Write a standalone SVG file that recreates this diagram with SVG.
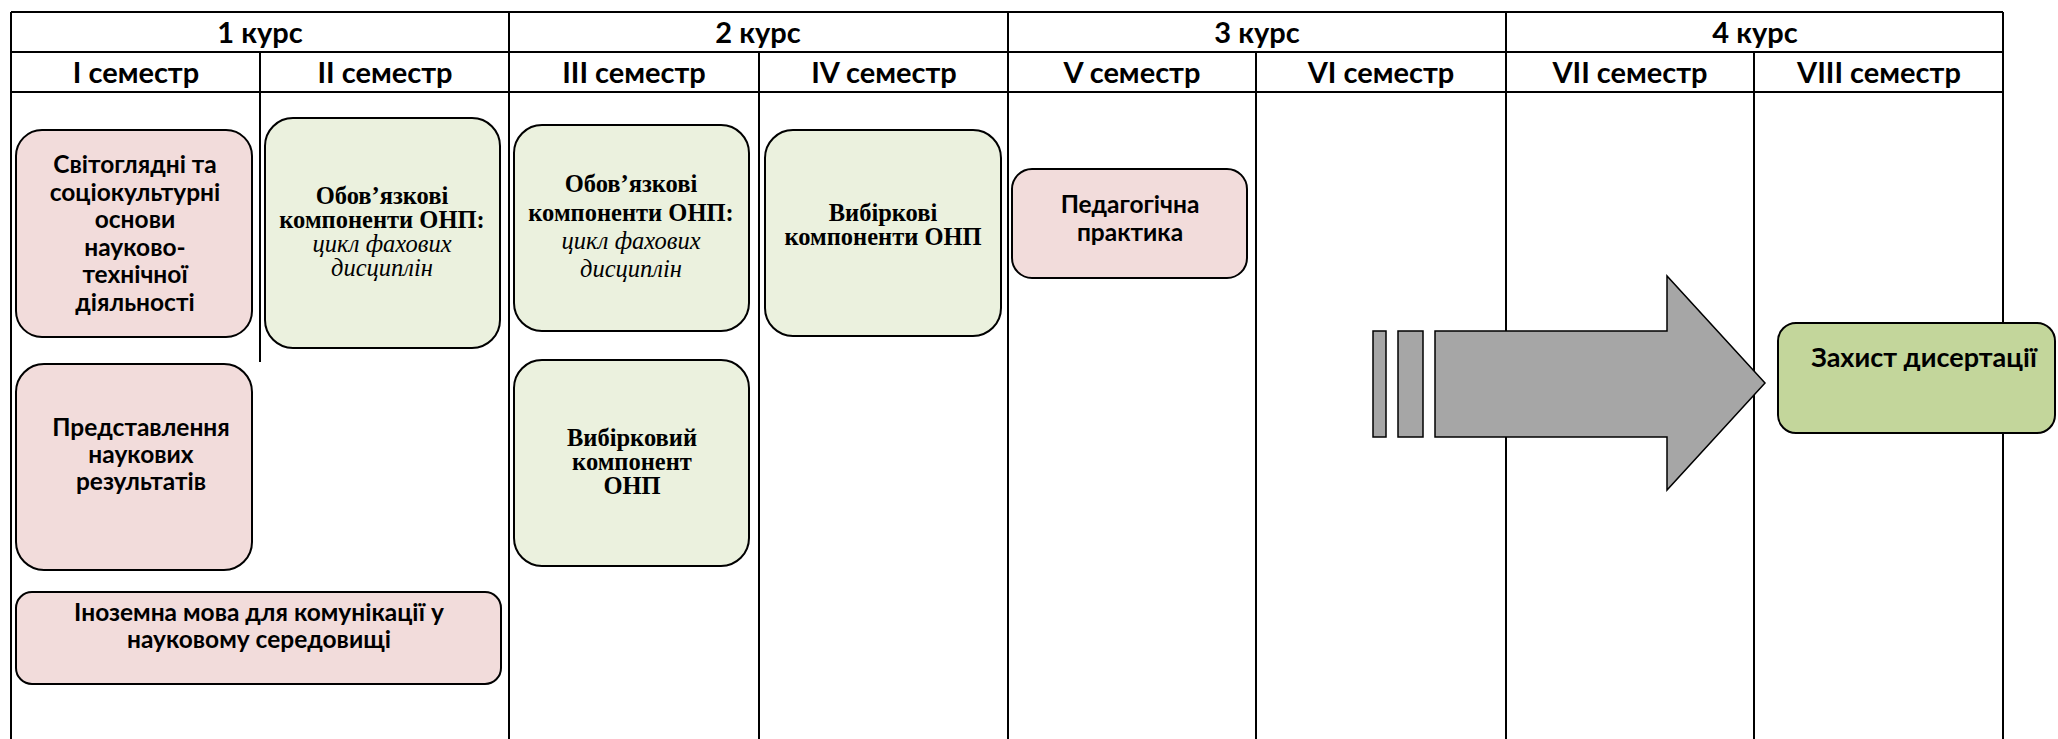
<svg xmlns="http://www.w3.org/2000/svg" width="2058" height="739" viewBox="0 0 2058 739">
<style>
.grid{stroke:#000;stroke-width:2;fill:none}
.pink{fill:#F2DCDB;stroke:#000;stroke-width:2}
.green{fill:#EBF1DE;stroke:#000;stroke-width:2}
.dgreen{fill:#C3D69B;stroke:#000;stroke-width:2}
.arrow{fill:#A6A6A6;stroke:#000;stroke-width:1.5}
.hd{font-family:Lato,"Open Sans","Noto Sans",sans-serif;font-weight:700;font-size:29px;text-anchor:middle;fill:#000}
.cb{font-family:Lato,"Open Sans","Noto Sans",sans-serif;font-weight:700;font-size:24.5px;text-anchor:middle;fill:#000}
.big{font-size:27px}
.tb{font-family:"Liberation Serif","Times New Roman",serif;font-weight:700;font-size:24.5px;text-anchor:middle;fill:#000}
.ti{font-family:"Liberation Serif","Times New Roman",serif;font-style:italic;font-size:24.5px;text-anchor:middle;fill:#000}
</style>
<rect width="2058" height="739" fill="#fff"/>
<g id="table">
<line class="grid" x1="11" y1="12" x2="2003" y2="12" stroke-width="2.5"/>
<line class="grid" x1="11" y1="52" x2="2003" y2="52"/>
<line class="grid" x1="11" y1="92" x2="2003" y2="92"/>
<line class="grid" x1="11" y1="12" x2="11" y2="739" stroke-width="2.5"/>
<line class="grid" x1="509" y1="12" x2="509" y2="739"/>
<line class="grid" x1="1008" y1="12" x2="1008" y2="739"/>
<line class="grid" x1="1506" y1="12" x2="1506" y2="739"/>
<line class="grid" x1="2003" y1="12" x2="2003" y2="739" stroke-width="2.5"/>
<line class="grid" x1="260" y1="52" x2="260" y2="362"/>
<line class="grid" x1="759" y1="52" x2="759" y2="739"/>
<line class="grid" x1="1256" y1="52" x2="1256" y2="739"/>
<line class="grid" x1="1754" y1="52" x2="1754" y2="739"/>
<text class="hd" x="260" y="43">1 курс</text>
<text class="hd" x="758" y="43">2 курс</text>
<text class="hd" x="1257" y="43">3 курс</text>
<text class="hd" x="1755" y="43">4 курс</text>
<text class="hd" x="136" y="83">I семестр</text>
<text class="hd" x="385" y="83">II семестр</text>
<text class="hd" x="634" y="83">III семестр</text>
<text class="hd" x="884" y="83">IV семестр</text>
<text class="hd" x="1132" y="83">V семестр</text>
<text class="hd" x="1381" y="83">VI семестр</text>
<text class="hd" x="1630" y="83">VII семестр</text>
<text class="hd" x="1879" y="83">VIII семестр</text>
</g>
<g id="connectors">
<rect class="arrow" x="1373" y="331" width="13" height="106"/>
<rect class="arrow" x="1398" y="331" width="25" height="106"/>
<polygon class="arrow" points="1435,331 1667,331 1667,276 1765,383 1667,490 1667,437 1435,437"/>
</g>
<g id="n1">
<rect class="pink" x="16" y="130" width="236" height="207" rx="26"/>
<text class="cb" x="135"><tspan x="135" y="173">Світоглядні та</tspan><tspan x="135" y="200.5">соціокультурні</tspan><tspan x="135" y="228">основи</tspan><tspan x="135" y="255.5">науково-</tspan><tspan x="135" y="283">технічної</tspan><tspan x="135" y="310.5">діяльності</tspan></text>
</g>
<g id="n2">
<rect class="green" x="265" y="118" width="235" height="230" rx="28"/>
<text class="tb" x="382"><tspan x="382" y="204">Обов’язкові</tspan><tspan x="382" y="228">компоненти ОНП:</tspan></text>
<text class="ti" x="382"><tspan x="382" y="252">цикл фахових</tspan><tspan x="382" y="276">дисциплін</tspan></text>
</g>
<g id="n3">
<rect class="green" x="514" y="125" width="235" height="206" rx="28"/>
<text class="tb" x="631"><tspan x="631" y="192">Обов’язкові</tspan><tspan x="631" y="221">компоненти ОНП:</tspan></text>
<text class="ti" x="631"><tspan x="631" y="249">цикл фахових</tspan><tspan x="631" y="277">дисциплін</tspan></text>
</g>
<g id="n4">
<rect class="green" x="765" y="130" width="236" height="206" rx="28"/>
<text class="tb" x="883"><tspan x="883" y="221">Вибіркові</tspan><tspan x="883" y="245">компоненти ОНП</tspan></text>
</g>
<g id="n5">
<rect class="pink" x="1012" y="169" width="235" height="109" rx="20"/>
<text class="cb" x="1130"><tspan x="1130" y="213">Педагогічна</tspan><tspan x="1130" y="241">практика</tspan></text>
</g>
<g id="n6">
<rect class="pink" x="16" y="364" width="236" height="206" rx="28"/>
<text class="cb" x="141"><tspan x="141" y="436">Представлення</tspan><tspan x="141" y="463">наукових</tspan><tspan x="141" y="490">результатів</tspan></text>
</g>
<g id="n7">
<rect class="pink" x="16" y="592" width="485" height="92" rx="16"/>
<text class="cb" x="259"><tspan x="259" y="621">Іноземна мова для комунікації у</tspan><tspan x="259" y="648">науковому середовищі</tspan></text>
</g>
<g id="n8">
<rect class="green" x="514" y="360" width="235" height="206" rx="28"/>
<text class="tb" x="632"><tspan x="632" y="446">Вибірковий</tspan><tspan x="632" y="470">компонент</tspan><tspan x="632" y="494">ОНП</tspan></text>
</g>
<g id="n9">
<rect class="dgreen" x="1778" y="323" width="277" height="110" rx="18"/>
<text class="cb big" x="1924" y="367">Захист дисертації</text>
</g>
</svg>
